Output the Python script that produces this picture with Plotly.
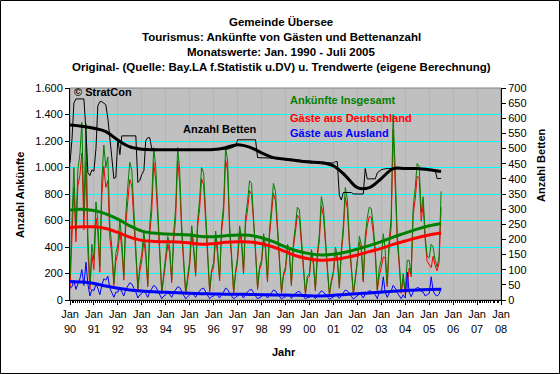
import pandas as pd
import plotly.graph_objects as go

# ---------------- data ----------------
title_lines = [
    "Gemeinde Übersee",
    "Tourismus: Ankünfte von Gästen und Bettenanzahl",
    "Monatswerte: Jan. 1990 - Juli 2005",
    "Original- (Quelle: Bay.LA f.Statistik u.DV) u. Trendwerte (eigene Berechnung)",
]

series_names = ["Ankünfte Insgesamt", "Gäste aus Deutschland", "Gäste aus Ausland", "Anzahl Betten"]

# monthly values Jan 1990 .. Jul 2005
total_arrivals = [
    170, 620, 1000, 520, 980, 1100, 1340, 640, 1330, 480, 110, 420,
    300, 740, 600, 250, 900, 1170, 1000, 1080, 560, 400, 130, 350,
    420, 600, 450, 180, 650, 860, 1040, 980, 700, 430, 90, 260,
    350, 520, 380, 120, 560, 760, 1150, 1000, 620, 380, 60, 200,
    320, 480, 400, 150, 500, 700, 1150, 980, 560, 330, 50, 180,
    300, 560, 420, 200, 600, 760, 1000, 960, 620, 380, 70, 230,
    280, 520, 380, 160, 560, 720, 1150, 1050, 560, 340, 60, 220,
    330, 560, 470, 210, 620, 740, 900, 880, 640, 410, 90, 250,
    300, 500, 420, 150, 520, 700, 880, 820, 560, 350, 60, 200,
    250, 420, 380, 120, 430, 560, 700, 680, 480, 300, 50, 180,
    200, 380, 300, 80, 350, 500, 780, 700, 420, 250, 40, 150,
    220, 400, 330, 100, 380, 560, 850, 760, 460, 270, 50, 170,
    300, 480, 420, 150, 480, 620, 700, 690, 560, 380, 80, 240,
    300, 500, 380, 120, 450, 620, 1400, 980, 500, 300, 60, 200,
    60, 300, 300, 200, 700, 840, 1030, 1010, 660, 780, 480, 330,
    320, 420, 400, 300, 250, 330, 820,
]

germany_arrivals = [
    80, 520, 850, 440, 860, 940, 1110, 530, 1045, 360, 80, 340,
    230, 620, 510, 210, 790, 1010, 850, 900, 470, 340, 110, 290,
    360, 510, 390, 150, 570, 750, 910, 860, 610, 370, 75, 220,
    300, 450, 330, 100, 500, 670, 1040, 900, 550, 340, 50, 170,
    280, 420, 355, 130, 445, 620, 1050, 885, 500, 295, 40, 155,
    265, 505, 380, 180, 550, 690, 915, 870, 565, 345, 60, 205,
    250, 470, 345, 145, 515, 660, 1060, 970, 510, 310, 50, 200,
    300, 515, 430, 195, 575, 680, 825, 800, 590, 380, 80, 230,
    275, 455, 385, 135, 480, 645, 805, 750, 515, 320, 52, 180,
    225, 380, 345, 108, 395, 510, 640, 615, 435, 275, 42, 162,
    180, 345, 270, 70, 320, 455, 710, 640, 380, 225, 34, 135,
    198, 362, 298, 88, 345, 510, 775, 690, 415, 242, 42, 152,
    272, 435, 380, 135, 435, 560, 630, 625, 505, 340, 70, 180,
    250, 325, 320, 100, 400, 550, 1290, 890, 445, 265, 50, 160,
    45, 90, 240, 175, 640, 760, 935, 920, 595, 720, 450, 290,
    270, 245, 330, 260, 220, 285, 700,
]

abroad_arrivals = [
    90, 100, 150, 80, 120, 160, 230, 110, 285, 120, 30, 80,
    70, 120, 90, 40, 110, 160, 150, 180, 90, 60, 20, 60,
    60, 90, 60, 30, 80, 110, 130, 120, 90, 60, 15, 40,
    50, 70, 50, 20, 60, 90, 110, 100, 70, 40, 10, 30,
    40, 60, 45, 20, 55, 80, 100, 95, 60, 35, 10, 25,
    35, 55, 40, 20, 50, 70, 85, 90, 55, 35, 10, 25,
    30, 50, 35, 15, 45, 60, 90, 80, 50, 30, 10, 20,
    30, 45, 40, 15, 45, 60, 75, 80, 50, 30, 10, 20,
    25, 45, 35, 15, 40, 55, 75, 70, 45, 30, 8, 20,
    25, 40, 35, 12, 35, 50, 60, 65, 45, 25, 8, 18,
    20, 35, 30, 10, 30, 45, 70, 60, 40, 25, 6, 15,
    22, 38, 32, 12, 35, 50, 75, 70, 45, 28, 8, 18,
    28, 45, 40, 15, 45, 60, 70, 65, 55, 40, 10, 60,
    50, 175, 60, 20, 50, 70, 110, 90, 55, 35, 10, 40,
    15, 210, 60, 25, 60, 80, 95, 90, 65, 60, 30, 40,
    50, 175, 70, 40, 30, 45, 90,
]

beds = [
    453, 532, 650, 664, 664, 664, 664, 664, 560, 420, 411, 430,
    425, 500, 641, 655, 655, 650, 645, 600, 542, 470, 401, 405,
    532, 480, 542, 542, 542, 542, 542, 542, 542, 542, 388, 395,
    415, 427, 526, 536, 536, 500, 498, 497, 497, 496, 496, 496,
    496, 496, 496, 496, 496, 496, 496, 496, 496, 496, 496, 496,
    496, 496, 496, 496, 496, 496, 496, 496, 496, 496, 496, 496,
    497, 497, 497, 497, 497, 497, 498, 498, 500, 503, 505, 508,
    529, 529, 529, 529, 529, 529, 529, 529, 529, 529, 470, 470,
    470, 470, 470, 470, 470, 470, 468, 468, 468, 468, 466, 466,
    466, 465, 465, 464, 464, 463, 462, 462, 461, 460, 460, 459,
    459, 458, 458, 457, 457, 456, 455, 455, 454, 454, 453, 453,
    452, 457, 457, 345, 330, 355, 355, 355, 355, 355, 350, 350,
    350, 350, 350, 350, 434, 400, 400, 400, 400, 400, 420, 425,
    430, 432, 434, 434, 434, 434, 434, 434, 434, 434, 434, 434,
    435, 435, 435, 435, 434, 434, 433, 433, 432, 432, 431, 430,
    430, 430, 430, 430, 401, 401, 401,
]

# trend values, read every half year (Jan / Jul) 1990 .. 2005
total_trend = [680, 685, 675, 650, 610, 560, 520, 505, 498, 495, 490, 480, 478, 485, 490, 488,
               470, 440, 400, 370, 350, 340, 345, 360, 385, 410, 440, 475, 505, 535, 560, 578]
germany_trend = [548, 552, 552, 540, 510, 475, 450, 442, 440, 438, 430, 420, 425, 435, 440, 438,
                 425, 400, 365, 330, 310, 300, 305, 320, 340, 365, 390, 420, 445, 470, 490, 505]
abroad_trend = [140, 135, 125, 105, 88, 76, 68, 62, 58, 54, 51, 48, 46, 44, 43, 42,
                40, 38, 37, 35, 32, 30, 35, 42, 48, 53, 60, 66, 72, 76, 79, 81]
beds_trend = [578, 574, 567, 556, 528, 506, 498, 496, 496, 496, 496, 496, 497, 503, 513, 505,
              486, 470, 465, 460, 456, 453, 443, 411, 371, 371, 401, 434, 434, 434, 430, 424]

tick_years = list(range(1990, 2009))
tick_labels = ["Jan<br>90", "Jan<br>91", "Jan<br>92", "Jan<br>93", "Jan<br>94", "Jan<br>95",
               "Jan<br>96", "Jan<br>97", "Jan<br>98", "Jan<br>99", "Jan<br>00", "Jan<br>01",
               "Jan<br>02", "Jan<br>03", "Jan<br>04", "Jan<br>05", "Jan<br>06", "Jan<br>07",
               "Jan<br>08"]

# ---------------- figure ----------------
months = pd.date_range("1990-01-01", periods=len(total_arrivals), freq="MS")
half_years = pd.date_range("1990-01-01", periods=len(total_trend), freq="6MS")
tick_vals = [f"{y}-01-01" for y in tick_years]

GREEN, RED, BLUE, BLACK = "#008000", "#FF0000", "#0000FF", "#000000"
FONT = "Liberation Sans, Arial, sans-serif"

fig = go.Figure()
fig.add_trace(go.Scatter(x=months, y=germany_arrivals, mode="lines", line=dict(color=RED, width=1), name=series_names[1]))
fig.add_trace(go.Scatter(x=months, y=total_arrivals, mode="lines", line=dict(color=GREEN, width=1), name=series_names[0]))
fig.add_trace(go.Scatter(x=months, y=abroad_arrivals, mode="lines", line=dict(color=BLUE, width=1), name=series_names[2]))
fig.add_trace(go.Scatter(x=half_years, y=total_trend, mode="lines", line=dict(color=GREEN, width=3, shape="spline"), name="Trend " + series_names[0]))
fig.add_trace(go.Scatter(x=half_years, y=germany_trend, mode="lines", line=dict(color=RED, width=3, shape="spline"), name="Trend " + series_names[1]))
fig.add_trace(go.Scatter(x=half_years, y=abroad_trend, mode="lines", line=dict(color=BLUE, width=3, shape="spline"), name="Trend " + series_names[2]))
fig.add_trace(go.Scatter(x=months, y=beds, mode="lines", line=dict(color=BLACK, width=1), name=series_names[3], yaxis="y2"))
fig.add_trace(go.Scatter(x=half_years, y=beds_trend, mode="lines", line=dict(color=BLACK, width=3, shape="spline"), name="Trend " + series_names[3], yaxis="y2"))

W, H = 560, 374
L, R, T, B = 70, 59, 88, 74
pw, ph = W - L - R, H - T - B


def px(x):
    return (x - L) / pw


def py(y):
    return (H - B - y) / ph


annotations = []
for i, line in enumerate(title_lines):
    annotations.append(dict(text=f"<b>{line}</b>", x=px(281), y=py(22 + 15 * i), xref="paper", yref="paper",
                            showarrow=False, xanchor="center", yanchor="middle", font=dict(size=11.5, color=BLACK)))
legend_items = [(series_names[0], GREEN, 100), (series_names[1], RED, 118), (series_names[2], BLUE, 133)]
for txt, col, yy in legend_items:
    annotations.append(dict(text=f"<b>{txt}</b>", x=px(288), y=py(yy), xref="paper", yref="paper",
                            showarrow=False, xanchor="left", yanchor="middle", font=dict(size=11, color=col)))
annotations.append(dict(text=f"<b>{series_names[3]}</b>", x=px(181), y=py(129), xref="paper", yref="paper",
                        showarrow=False, xanchor="left", yanchor="middle", font=dict(size=11, color=BLACK)))
annotations.append(dict(text="<b>© StratCon</b>", x=px(72), y=py(92), xref="paper", yref="paper",
                        showarrow=False, xanchor="left", yanchor="middle", font=dict(size=11, color=BLACK)))
annotations.append(dict(text="<b>Anzahl Ankünfte</b>", x=px(20), y=py(195), xref="paper", yref="paper", textangle=-90,
                        showarrow=False, xanchor="center", yanchor="middle", font=dict(size=11, color=BLACK)))
annotations.append(dict(text="<b>Anzahl Betten</b>", x=px(541), y=py(165), xref="paper", yref="paper", textangle=-90,
                        showarrow=False, xanchor="center", yanchor="middle", font=dict(size=11, color=BLACK)))
annotations.append(dict(text="<b>Jahr</b>", x=px(284), y=py(352), xref="paper", yref="paper",
                        showarrow=False, xanchor="center", yanchor="middle", font=dict(size=11, color=BLACK)))

shapes = [
    dict(type="rect", xref="paper", yref="paper", x0=0, x1=1, y0=0, y1=1,
         line=dict(color="#808080", width=1), layer="below"),
    dict(type="rect", xref="paper", yref="paper", x0=px(0.5), x1=px(W - 0.5), y0=py(H - 0.5), y1=py(0.5),
         line=dict(color=BLACK, width=1), layer="above"),
]

fig.update_layout(
    width=W, height=H, autosize=False,
    margin=dict(l=L, r=R, t=T, b=B, pad=0),
    paper_bgcolor="white", plot_bgcolor="#C0C0C0",
    font=dict(family=FONT, size=11, color=BLACK),
    separators=",.",
    showlegend=False,
    hovermode=False,
    annotations=annotations,
    shapes=shapes,
    xaxis=dict(
        type="date", range=["1990-01-01", "2008-01-01"],
        tickmode="array", tickvals=tick_vals, ticktext=tick_labels,
        showgrid=True, gridcolor="#00FFFF", gridwidth=1,
        showline=True, linecolor=BLACK, linewidth=1,
        ticks="outside", ticklen=4, tickcolor=BLACK,
        minor=dict(tickmode="linear", tick0="1990-01-01", dtick="M1", ticks="outside", ticklen=2, tickcolor=BLACK, showgrid=False),
        zeroline=False, tickangle=0, fixedrange=True,
    ),
    yaxis=dict(
        range=[0, 1600], dtick=200, tickformat=",d",
        showgrid=True, gridcolor="#00FFFF", gridwidth=1,
        showline=True, linecolor=BLACK, linewidth=1,
        ticks="outside", ticklen=4, tickcolor=BLACK,
        zeroline=False, fixedrange=True,
    ),
    yaxis2=dict(
        range=[0, 700], dtick=50, overlaying="y", side="right",
        showgrid=False, showline=True, linecolor=BLACK, linewidth=1,
        ticks="outside", ticklen=4, tickcolor=BLACK, zeroline=False, fixedrange=True,
    ),
)

fig.write_html(
    "out.html",
    config={"displayModeBar": False, "staticPlot": True},
    post_script="document.body.style.margin='0px';document.body.style.overflow='hidden';",
)
